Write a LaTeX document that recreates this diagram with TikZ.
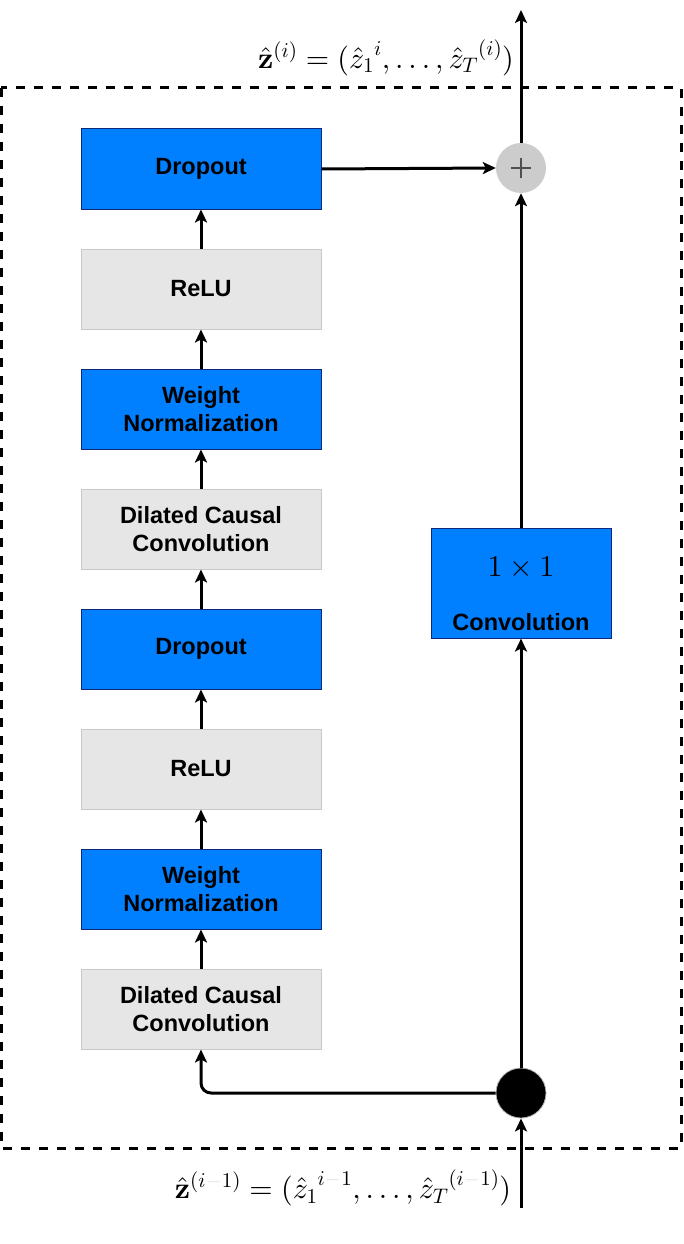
\documentclass[tikz,border=0pt]{standalone}
\usepackage[no-math]{fontspec}
\setmainfont{Liberation Sans}
\DeclareFontShape{OML}{cmm}{m}{it}{<->cmmi10}{}
\DeclareFontShape{OT1}{cmr}{m}{n}{<->cmr10}{}
\DeclareFontShape{OT1}{cmr}{bx}{n}{<->cmbx10}{}
\DeclareFontShape{OMS}{cmsy}{m}{n}{<->cmsy10}{}
\DeclareFontShape{OMX}{cmex}{m}{n}{<->cmex10}{}
\usetikzlibrary{arrows.meta}
\definecolor{bluefill}{RGB}{0,127,255}
\definecolor{blueedge}{RGB}{16,40,120}
\definecolor{grayfill}{RGB}{230,230,230}
\definecolor{grayedge}{RGB}{200,200,200}
\definecolor{plusfill}{RGB}{204,204,204}
\definecolor{plusline}{RGB}{80,80,80}
\newcommand{\fminus}{\mathbin{\color{black!12}-}}
\begin{document}
\begin{tikzpicture}[x=1pt,y=-1pt,
  box/.style={minimum width=240pt,minimum height=80pt,inner sep=0pt,align=center,
    font=\bfseries\fontsize{23.5}{28}\selectfont},
  bluebox/.style={box,draw=blueedge,fill=bluefill,line width=1pt},
  graybox/.style={box,draw=grayedge,fill=grayfill,line width=1pt},
  conn/.style={line width=3pt,-{Stealth[length=13pt,width=12pt,inset=3pt]}},
  mathlbl/.style={font=\fontsize{30}{36}\selectfont,inner sep=0pt}]
\useasboundingbox (0,0) rectangle (683,1244);
% dashed frame
\draw[line width=3pt,dash pattern=on 9pt off 9pt] (1,88) rectangle (681,1148);
% left column
\node[bluebox] (d2) at (201,169) {Dropout};
\node[graybox] (r2) at (201,289) {ReLU};
\node[bluebox] (w2) at (201,409) {Weight\\Normalization};
\node[graybox] (c2) at (201,529) {Dilated Causal\\Convolution};
\node[bluebox] (d1) at (201,649) {Dropout};
\node[graybox] (r1) at (201,769) {ReLU};
\node[bluebox] (w1) at (201,889) {Weight\\Normalization};
\node[graybox] (c1) at (201,1009) {Dilated Causal\\Convolution};
% right column
\node[draw=blueedge,fill=bluefill,line width=1pt,minimum width=180pt,minimum height=110pt,inner sep=0pt] (conv) at (521,583) {};
\node[mathlbl] (convm) at (521,568) {$1\times 1$};
\node[font=\bfseries\fontsize{23.5}{28}\selectfont,inner sep=0pt] (convt) at (521,622) {Convolution};
\node[circle,fill=plusfill,minimum size=50pt,inner sep=0pt] (plus) at (521,168) {};
\draw[plusline,line width=2pt] ([xshift=-10pt]plus.center) -- ([xshift=10pt]plus.center)
  ([yshift=-10pt]plus.center) -- ([yshift=10pt]plus.center);
\node[circle,fill=black,draw=gray!60,line width=0.8pt,minimum size=50pt,inner sep=0pt] (split) at (521,1093) {};
\coordinate (outtop) at (521,10);
\coordinate (inbot) at (521,1208);
% connectors
\draw[conn] (c1.north) -- (w1.south);
\draw[conn] (w1.north) -- (r1.south);
\draw[conn] (r1.north) -- (d1.south);
\draw[conn] (d1.north) -- (c2.south);
\draw[conn] (c2.north) -- (w2.south);
\draw[conn] (w2.north) -- (r2.south);
\draw[conn] (r2.north) -- (d2.south);
\draw[conn] (d2.east) -- (plus.west);
\draw[conn] (conv.north) -- (plus.south);
\draw[conn] (split.north) -- (conv.south);
\draw[conn] (inbot) -- (split.south);
\draw[conn] (plus.north) -- (outtop);
\draw[conn,rounded corners=10pt] (split.west) -| (c1.south);
% labels
\node[mathlbl] (zout) at (386,58) {$\hat{\mathbf{z}}^{(i)} = ({\hat{z}_1{}}^{i},\ldots,{\hat{z}_T{}}^{(i)})$};
\node[mathlbl] (zin) at (343,1188) {$\hat{\mathbf{z}}^{(i\fminus1)} = ({\hat{z}_1{}}^{i\fminus1},\ldots,{\hat{z}_T{}}^{(i\fminus1)})$};
\end{tikzpicture}
\end{document}
